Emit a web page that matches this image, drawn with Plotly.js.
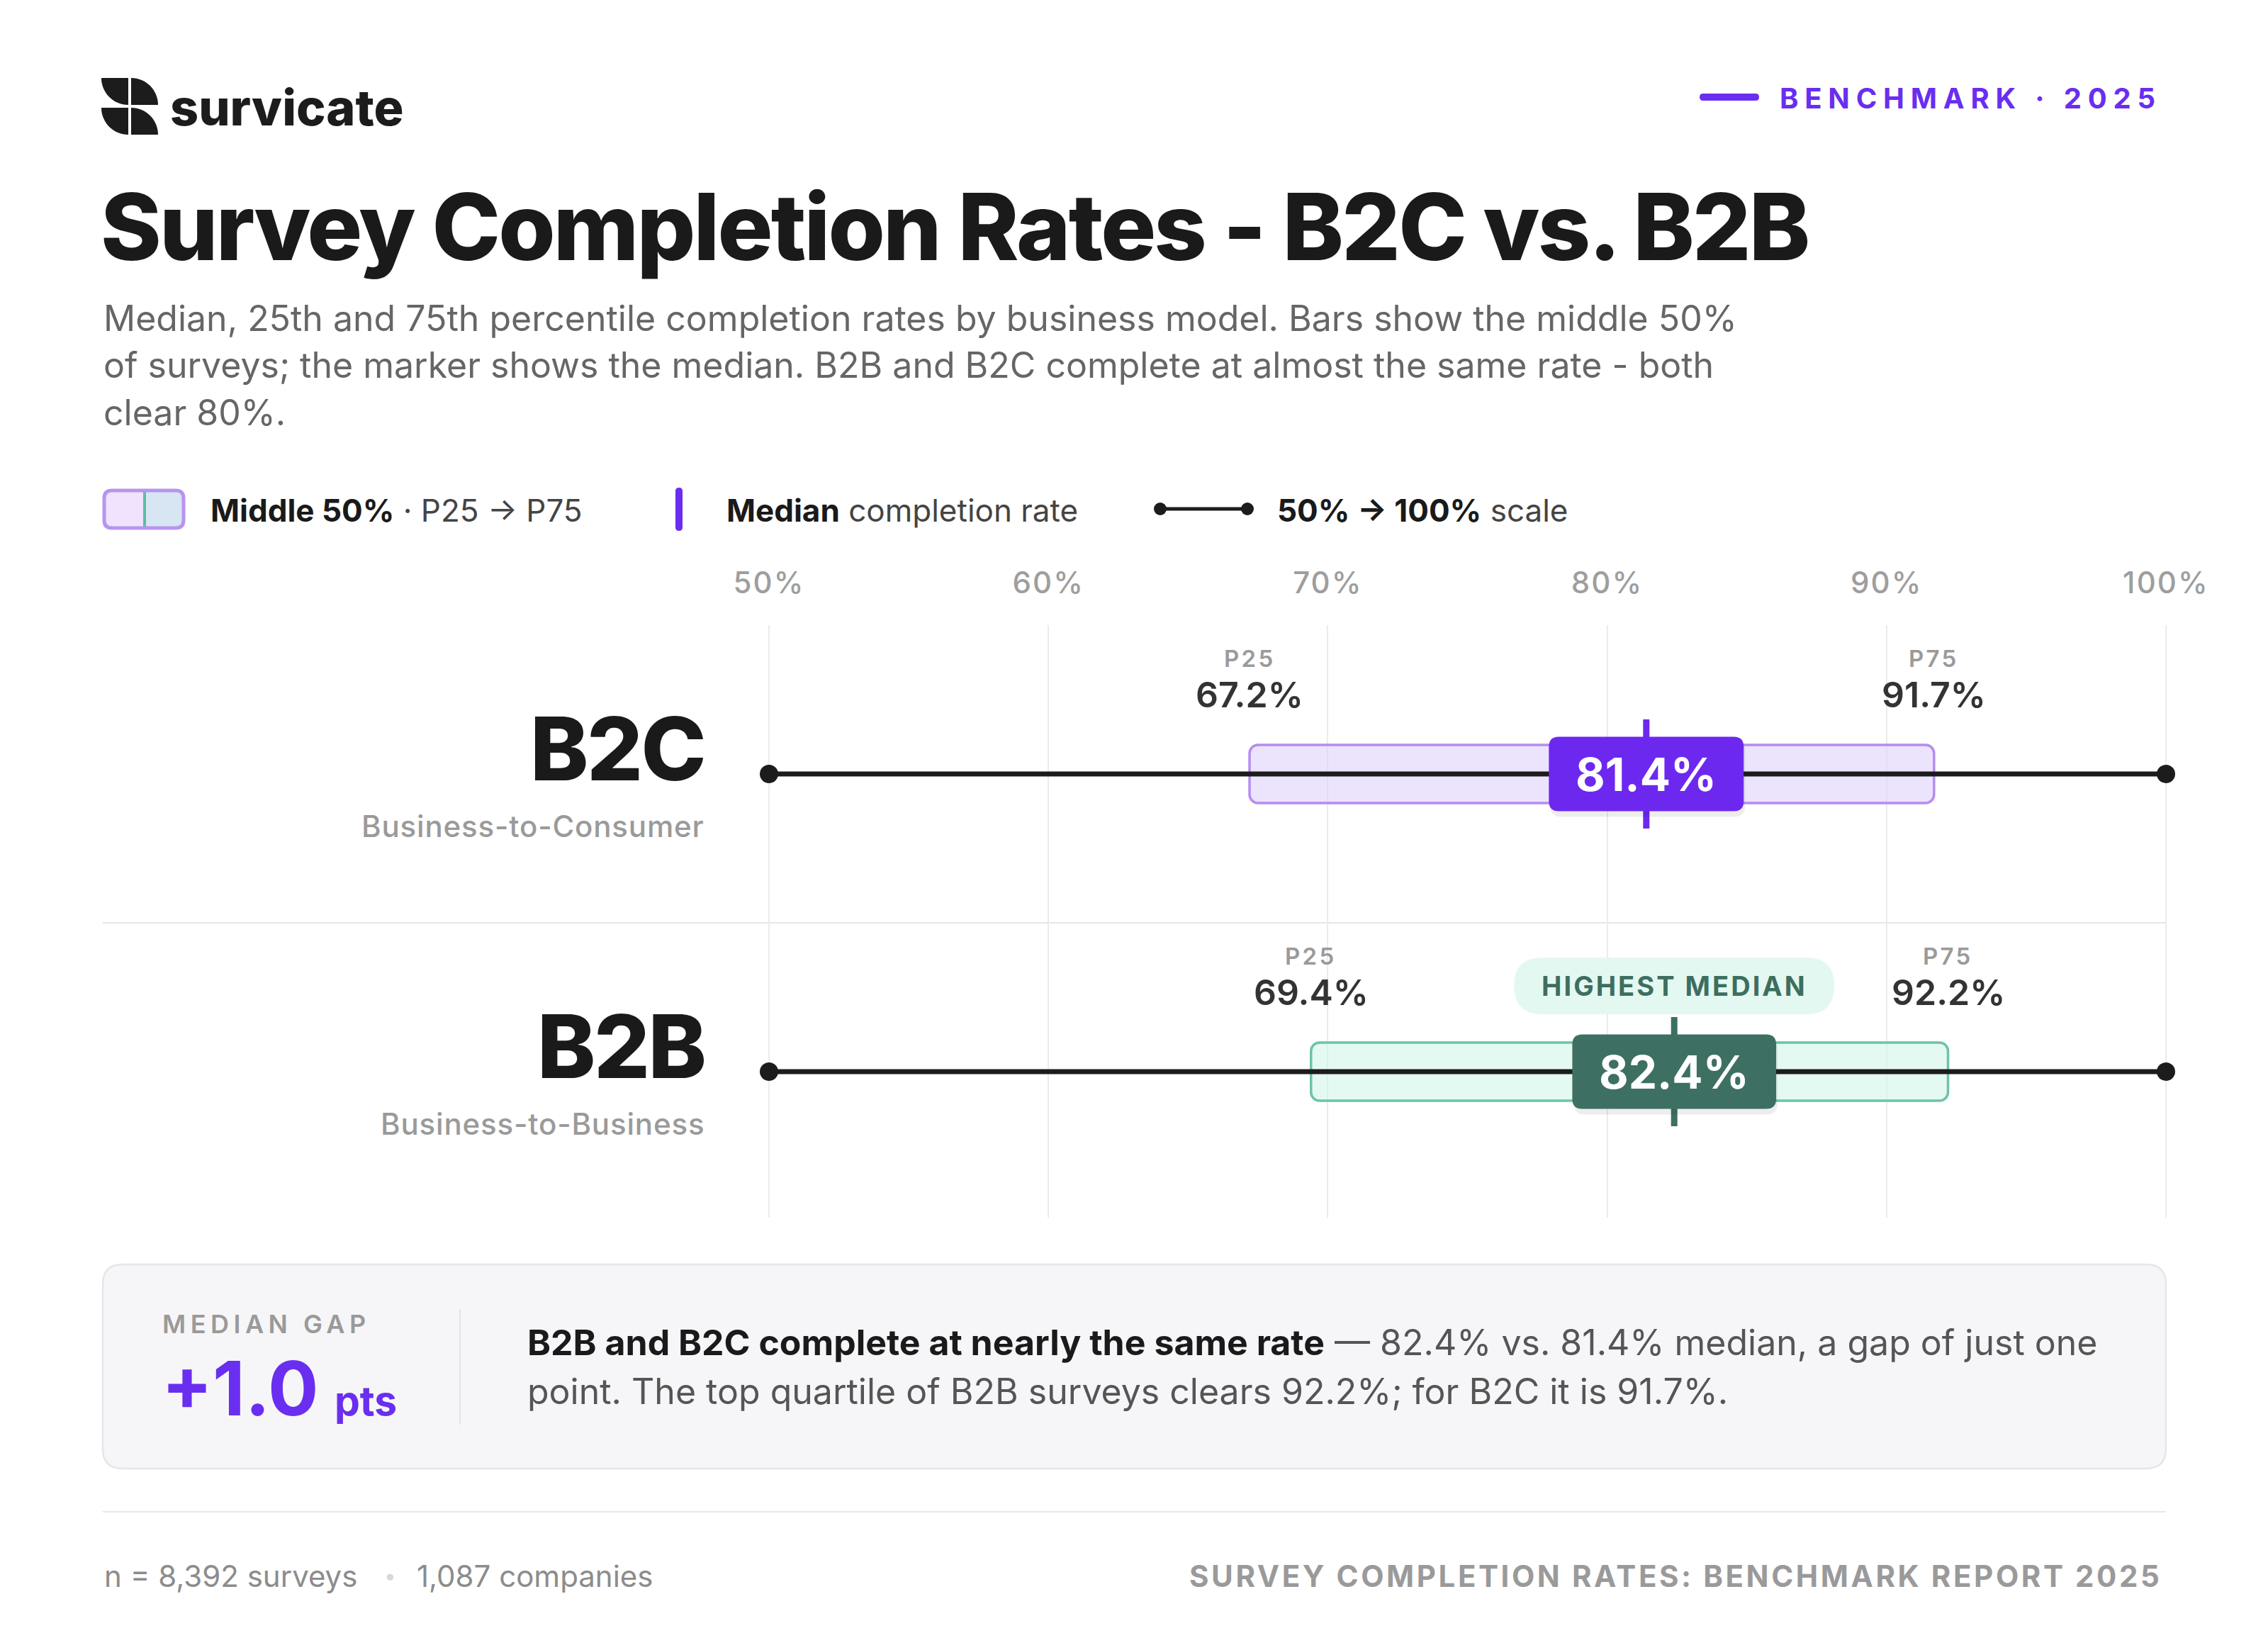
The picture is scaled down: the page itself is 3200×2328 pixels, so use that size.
<!DOCTYPE html>
<html>
<head>
<meta charset="utf-8">
<script src="https://cdn.plot.ly/plotly-3.0.1.min.js"></script>
<style>
html,body{margin:0;padding:0;background:#fff;}
#chart{width:3200px;height:2328px;}
text[data-unformatted^="BENCHMARK"]{letter-spacing:0.22em;}
text[data-unformatted="HIGHEST MEDIAN"]{letter-spacing:0.08em;}
text[data-unformatted="MEDIAN GAP"]{letter-spacing:0.18em;}
text[data-unformatted^="SURVEY COMPLETION"]{letter-spacing:0.085em;}
text[data-unformatted="P25"],text[data-unformatted="P75"]{letter-spacing:0.1em;}
text[data-unformatted^="Survey Completion"]{letter-spacing:-0.022em;}
text[data-unformatted="B2C"],text[data-unformatted="B2B"]{letter-spacing:-0.02em;}
text[data-unformatted^="Business-to"]{letter-spacing:0.02em;}
.xtick text{letter-spacing:0.05em;}
</style>
</head>
<body>
<div id="chart"></div>
<script>
// ---------------- DATA ----------------
const categories = ['B2C', 'B2B'];
const categoryNames = ['Business-to-Consumer', 'Business-to-Business'];
const p25 = [67.2, 69.4];
const median = [81.4, 82.4];
const p75 = [91.7, 92.2];
const scaleRange = [50, 100];
const tickVals = [50, 60, 70, 80, 90, 100];
const nSurveys = '8,392';
const nCompanies = '1,087';

// ---------------- STYLE ----------------
const W = 3200, H = 2328;
const FONT = 'Inter, "Noto Sans", sans-serif';
const rowTheme = [
  {fill: 'rgba(224,210,251,0.62)', border: '#b48cf2', badge: '#6d28f0'},
  {fill: 'rgba(212,246,234,0.62)', border: '#6cc4a6', badge: '#3d7062'}
];
const rowY = categories.map((c, i) => categories.length - 1 - i);
const pxPerUnitY = 420;
const X0PX = 1085, X1PX = 3056;
const pxPerUnitX = (X1PX - X0PX) / (scaleRange[1] - scaleRange[0]);
const pad = 1; // axis padding (units) so edge gridlines are drawn

const fx = x => x / W;
const fy = y => 1 - y / H;
const pt = (x, y) => fx(x).toFixed(6) + ',' + fy(y).toFixed(6);
function rr(x0, y0, x1, y1, r) {
  return `M${pt(x0 + r, y0)} L${pt(x1 - r, y0)} Q${pt(x1, y0)} ${pt(x1, y0 + r)} L${pt(x1, y1 - r)} Q${pt(x1, y1)} ${pt(x1 - r, y1)} L${pt(x0 + r, y1)} Q${pt(x0, y1)} ${pt(x0, y1 - r)} L${pt(x0, y0 + r)} Q${pt(x0, y0)} ${pt(x0 + r, y0)} Z`;
}
function rrRel(x0, y0, x1, y1, r) {
  const p = (a, b) => a.toFixed(2) + ',' + b.toFixed(2);
  return `M${p(x0 + r, y0)} L${p(x1 - r, y0)} Q${p(x1, y0)} ${p(x1, y0 + r)} L${p(x1, y1 - r)} Q${p(x1, y1)} ${p(x1 - r, y1)} L${p(x0 + r, y1)} Q${p(x0, y1)} ${p(x0, y1 - r)} L${p(x0, y0 + r)} Q${p(x0, y0)} ${p(x0 + r, y0)} Z`;
}
const cv = document.createElement('canvas').getContext('2d');
function textW(txt, size, weight) {
  cv.font = `${weight} ${size}px Inter`;
  return cv.measureText(txt).width;
}
function ann(text, x, y, o) {
  o = o || {};
  return {
    xref: 'paper', yref: 'paper', x: fx(x), y: fy(y), text: text, showarrow: false,
    xanchor: o.xa || 'left', yanchor: o.ya || 'middle', align: o.align || 'left',
    font: {family: FONT, size: o.size || 40, color: o.color || '#1a1a1a', weight: o.weight || 400}
  };
}

// ---------------- TRACES ----------------
const traces = [];
traces.push({
  type: 'bar', orientation: 'h',
  y: rowY, base: p25, x: p75.map((v, i) => v - p25[i]),
  width: 82 / pxPerUnitY,
  marker: {color: rowTheme.map(t => t.fill), line: {color: rowTheme.map(t => t.border), width: 3.5}, cornerradius: 12},
  hoverinfo: 'skip'
});
rowY.forEach(r => traces.push({
  type: 'scatter', mode: 'lines+markers', cliponaxis: false,
  x: scaleRange, y: [r, r],
  line: {color: '#1c1c1c', width: 7},
  marker: {size: 26, color: '#1c1c1c'}, hoverinfo: 'skip'
}));

// ---------------- SHAPES ----------------
const shapes = [];
const logoPaths = [
  `M${pt(181,110)} L${pt(143,110)} C${pt(143,131)} ${pt(160,148)} ${pt(181,148)} Z`,
  `M${pt(185,148)} L${pt(185,110)} C${pt(206,110)} ${pt(223,127)} ${pt(223,148)} Z`,
  `M${pt(143,152)} L${pt(181,152)} L${pt(181,190)} C${pt(160,190)} ${pt(143,173)} ${pt(143,152)} Z`,
  `M${pt(185,190)} L${pt(185,152)} C${pt(206,152)} ${pt(223,169)} ${pt(223,190)} Z`
];
logoPaths.forEach(p => shapes.push({type: 'path', xref: 'paper', yref: 'paper', path: p, fillcolor: '#1c1c1c', line: {width: 0}}));
shapes.push({type: 'path', xref: 'paper', yref: 'paper', path: rr(2398, 132, 2482, 142, 5), fillcolor: '#6a2ef0', line: {width: 0}});
// legend swatch
shapes.push({type: 'path', xref: 'paper', yref: 'paper', path: rr(145, 690, 261, 747, 12), fillcolor: '#d8e5f3', line: {width: 0}});
shapes.push({type: 'path', xref: 'paper', yref: 'paper',
  path: `M${pt(157,690)} L${pt(204,690)} L${pt(204,747)} L${pt(157,747)} Q${pt(145,747)} ${pt(145,735)} L${pt(145,702)} Q${pt(145,690)} ${pt(157,690)} Z`,
  fillcolor: '#efe3fd', line: {width: 0}});
shapes.push({type: 'line', xref: 'paper', yref: 'paper', x0: fx(204), x1: fx(204), y0: fy(692), y1: fy(745), line: {color: '#5bbf9f', width: 4}});
shapes.push({type: 'path', xref: 'paper', yref: 'paper', path: rr(147, 692, 259, 745, 11), fillcolor: 'rgba(0,0,0,0)', line: {color: '#b894f0', width: 5}});
shapes.push({type: 'path', xref: 'paper', yref: 'paper', path: rr(953, 688, 963, 749, 5), fillcolor: '#6a2ef0', line: {width: 0}});
shapes.push({type: 'line', xref: 'paper', yref: 'paper', x0: fx(1637), x1: fx(1760), y0: fy(718), y1: fy(718), line: {color: '#1c1c1c', width: 5}});
[1637, 1760].forEach(cx => shapes.push({type: 'circle', xref: 'paper', yref: 'paper', x0: fx(cx - 9), x1: fx(cx + 9), y0: fy(727), y1: fy(709), fillcolor: '#1c1c1c', line: {width: 0}}));
// row separator
shapes.push({type: 'line', xref: 'paper', yref: 'y', x0: fx(145), x1: fx(3056), y0: (rowY[0] + rowY[1]) / 2, y1: (rowY[0] + rowY[1]) / 2, line: {color: '#e6e6e6', width: 2}, layer: 'between'});
// median ticks + badges
const badgeFontSize = 64, badgeH = 105;
categories.forEach((c, i) => {
  shapes.push({type: 'line', xref: 'x', yref: 'y', ysizemode: 'pixel', yanchor: rowY[i], x0: median[i], x1: median[i], y0: -77, y1: 77, line: {color: rowTheme[i].badge, width: 9}});
  const bw = textW(median[i].toFixed(1) + '%', badgeFontSize, 700) + 76;
  shapes.push({type: 'path', xref: 'x', yref: 'y', xsizemode: 'pixel', ysizemode: 'pixel', xanchor: median[i], yanchor: rowY[i],
    path: rrRel(-bw / 2 + 2, -badgeH / 2 - 8, bw / 2 + 2, badgeH / 2 - 4, 16), fillcolor: 'rgba(0,0,0,0.07)', line: {width: 0}});
  shapes.push({type: 'path', xref: 'x', yref: 'y', xsizemode: 'pixel', ysizemode: 'pixel', xanchor: median[i], yanchor: rowY[i],
    path: rrRel(-bw / 2, -badgeH / 2, bw / 2, badgeH / 2, 14), fillcolor: rowTheme[i].badge, line: {width: 0}});
});
const topIdx = median.indexOf(Math.max(...median));
shapes.push({type: 'path', xref: 'x', yref: 'y', xsizemode: 'pixel', ysizemode: 'pixel', xanchor: median[topIdx], yanchor: rowY[topIdx],
  path: rrRel(-226, 121 - 40, 226, 121 + 40, 40), fillcolor: '#e3f8f1', line: {width: 0}});
// summary box
shapes.push({type: 'path', xref: 'paper', yref: 'paper', path: rr(145, 1784, 3056, 2072, 28), fillcolor: '#f6f6f8', line: {color: '#e5e5ea', width: 2.5}});
shapes.push({type: 'line', xref: 'paper', yref: 'paper', x0: fx(649), x1: fx(649), y0: fy(1847), y1: fy(2010), line: {color: '#e3e3e6', width: 2}});
shapes.push({type: 'line', xref: 'paper', yref: 'paper', x0: fx(145), x1: fx(3056), y0: fy(2133), y1: fy(2133), line: {color: '#e8e8e8', width: 2}});

// ---------------- ANNOTATIONS ----------------
const A = [];
A.push(ann('survicate', 238, 152, {size: 70, weight: 800, color: '#1c1c1c'}));
A.push(ann('BENCHMARK · 2025', 3052, 138, {xa: 'right', size: 40, weight: 700, color: '#6a2ef0'}));
A.push(ann('Survey Completion Rates - B2C vs. B2B', 140, 320, {size: 130, weight: 800, color: '#1a1a1a'}));
A.push(ann('Median, 25th and 75th percentile completion rates by business model. Bars show the middle 50%', 144, 449, {size: 50, color: '#666666'}));
A.push(ann('of surveys; the marker shows the median. B2B and B2C complete at almost the same rate - both', 144, 515, {size: 50, color: '#666666'}));
A.push(ann('clear 80%.', 144, 582, {size: 50, color: '#666666'}));
A.push(ann('<b>Middle 50%</b><span style="color:#444"> · P25 → P75</span>', 295, 720, {size: 44, color: '#1a1a1a'}));
A.push(ann('<b>Median</b><span style="color:#444"> completion rate</span>', 1023, 720, {size: 44, color: '#1a1a1a'}));
A.push(ann('<b>50% → 100%</b><span style="color:#444"> scale</span>', 1800, 720, {size: 44, color: '#1a1a1a'}));
categories.forEach((c, i) => {
  A.push({xref: 'paper', yref: 'y', x: fx(996), y: rowY[i], yshift: 36, text: c, showarrow: false, xanchor: 'right', yanchor: 'middle',
    font: {family: FONT, size: 124, weight: 800, color: '#1a1a1a'}});
  A.push({xref: 'paper', yref: 'y', x: fx(996), y: rowY[i], yshift: -73, text: categoryNames[i], showarrow: false, xanchor: 'right', yanchor: 'middle',
    font: {family: FONT, size: 42, weight: 500, color: '#9a9a9a'}});
  [[p25[i], 'P25'], [p75[i], 'P75']].forEach(([v, lab]) => {
    A.push({xref: 'x', yref: 'y', x: v, y: rowY[i], yshift: 163, text: lab, showarrow: false, xanchor: 'center', yanchor: 'middle',
      font: {family: FONT, size: 33, weight: 600, color: '#9a9a9a'}});
    A.push({xref: 'x', yref: 'y', x: v, y: rowY[i], yshift: 112, text: v.toFixed(1) + '%', showarrow: false, xanchor: 'center', yanchor: 'middle',
      font: {family: FONT, size: 50, weight: 600, color: '#333333'}});
  });
  A.push({xref: 'x', yref: 'y', x: median[i], y: rowY[i], text: median[i].toFixed(1) + '%', showarrow: false, xanchor: 'center', yanchor: 'middle',
    font: {family: FONT, size: badgeFontSize, weight: 700, color: '#ffffff'}});
});
A.push({xref: 'x', yref: 'y', x: median[topIdx], y: rowY[topIdx], yshift: 121, text: 'HIGHEST MEDIAN', showarrow: false, xanchor: 'center', yanchor: 'middle',
  font: {family: FONT, size: 38, weight: 700, color: '#3d6e5f'}});
const gap = (median[1] - median[0]).toFixed(1);
A.push(ann('MEDIAN GAP', 227, 1868, {size: 36, weight: 600, color: '#9a9a9a'}));
A.push(ann('+' + gap + '<span style="font-size:57px">\u2009 pts</span>', 226, 1958, {size: 106, weight: 700, color: '#6a2ef0'}));
A.push(ann('<b>B2B and B2C complete at nearly the same rate</b><span style="color:#555"> — ' + median[1].toFixed(1) + '% vs. ' + median[0].toFixed(1) + '% median, a gap of just one</span>', 742, 1894, {size: 50, color: '#1a1a1a'}));
A.push(ann('point. The top quartile of B2B surveys clears ' + p75[1].toFixed(1) + '%; for B2C it is ' + p75[0].toFixed(1) + '%.', 742, 1963, {size: 50, color: '#555555'}));
A.push(ann('n = ' + nSurveys + ' surveys', 145, 2223, {size: 42, color: '#8c8c8c'}));
A.push(ann('•', 540, 2223, {size: 30, color: '#d8d8d8'}));
A.push(ann(nCompanies + ' companies', 586, 2223, {size: 42, color: '#8c8c8c'}));
A.push(ann('SURVEY COMPLETION RATES: BENCHMARK REPORT 2025', 3052, 2223, {xa: 'right', size: 42, weight: 700, color: '#9a9a9a'}));

// ---------------- LAYOUT ----------------
const yTop = 882, yBot = 1718;
const yMax = rowY[0] + (1092 - yTop) / pxPerUnitY;
const yMin = rowY[1] - (yBot - 1512) / pxPerUnitY;
const layout = {
  width: W, height: H, autosize: false,
  margin: {l: 0, r: 0, t: 0, b: 0, pad: 0},
  paper_bgcolor: '#ffffff', plot_bgcolor: 'rgba(0,0,0,0)',
  showlegend: false, hovermode: false,
  font: {family: FONT},
  xaxis: {
    domain: [(X0PX - pad * pxPerUnitX) / W, (X1PX + pad * pxPerUnitX) / W],
    range: [scaleRange[0] - pad, scaleRange[1] + pad], side: 'top',
    tickvals: tickVals, ticktext: tickVals.map(v => v + '%'),
    ticks: '', ticklabelstandoff: 36,
    tickfont: {family: FONT, size: 42, color: '#9e9e9e', weight: 500},
    showgrid: true, gridcolor: '#ebebeb', gridwidth: 2,
    zeroline: false, showline: false, fixedrange: true
  },
  yaxis: {
    domain: [fy(yBot), fy(yTop)], range: [yMin, yMax],
    visible: false, showgrid: false, zeroline: false, fixedrange: true
  },
  shapes: shapes,
  annotations: A
};
Plotly.newPlot('chart', traces, layout, {staticPlot: true, displayModeBar: false});
</script>
</body>
</html>
